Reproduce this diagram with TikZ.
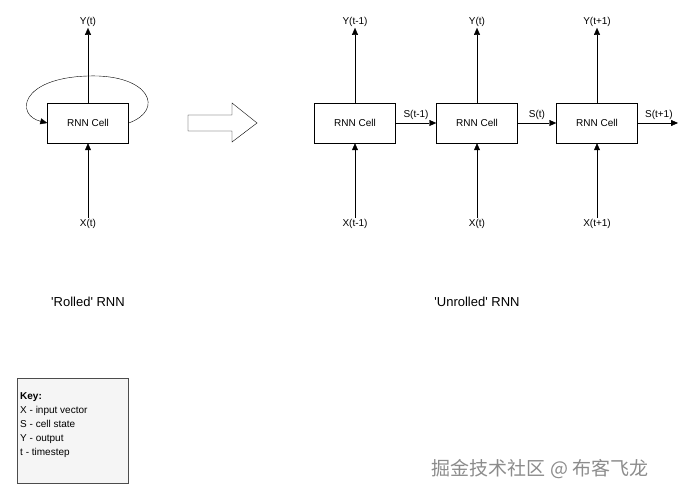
\documentclass[tikz,border=0pt]{standalone}
\usepackage{fontspec}
\setmainfont{Liberation Sans}
\newfontfamily\cjk{Noto Sans CJK SC}
\usetikzlibrary{arrows.meta,positioning}

\begin{document}
\begin{tikzpicture}[x=1pt,y=-1pt,font=\fontsize{10}{12}\selectfont,
  cell/.style={draw,minimum width=81pt,minimum height=40pt,inner sep=0pt},
  lbl/.style={inner sep=1pt},
  flow/.style={-{Triangle[length=7pt,width=6pt]}}]
\useasboundingbox (0,0) rectangle (690,502);

% rolled
\node[cell] (rc) at (88,123) {RNN Cell};
\node[lbl] (ry) at (88,22) {Y(t)};
\node[lbl] (rx) at (88,224) {X(t)};
\draw[flow] (rc.north) -- (ry);
\draw[flow] (rx) -- (rc.south);
\draw[flow] (rc.east) .. controls (165,110) and (150,74) .. (88,76)
  .. controls (20,78) and (15,115) .. (rc.west);

% big arrow
\draw (188,115) -- (232,115) -- (232,103) -- (257,123) -- (232,142)
  -- (232,131) -- (188,131) -- cycle;

% unrolled
\foreach \n/\x/\t in {a/355/t-1,b/477/t,c/597/t+1}{
  \node[cell] (\n) at (\x,123) {RNN Cell};
  \node[lbl] (\n y) at (\x,22) {Y(\t)};
  \node[lbl] (\n x) at (\x,224) {X(\t)};
  \draw[flow] (\n.north) -- (\n y);
  \draw[flow] (\n x) -- (\n.south);
}
\coordinate (cend) at (678,123);
\draw[flow] (a) -- node[above,lbl,yshift=2pt] {S(t-1)} (b);
\draw[flow] (b) -- node[above,lbl,yshift=2pt] {S(t)} (c);
\draw[flow] (c) -- node[above,lbl,yshift=2pt,xshift=1pt] {S(t+1)} (cend);

% captions
\node[font=\fontsize{13}{15}\selectfont] (rolled) at (88,302)
  {\textquotesingle Rolled\textquotesingle\ RNN};
\node[font=\fontsize{13}{15}\selectfont] (unrolled) at (477,302)
  {\textquotesingle Unrolled\textquotesingle\ RNN};

% key
\node[draw=black!70,fill=black!4,minimum width=111pt,minimum height=105pt,
  anchor=north west,inner sep=0pt] (keybox) at (17,378) {};
\node[anchor=north west,align=left,inner sep=0pt,
  font=\fontsize{10}{14}\selectfont] (keytxt) at (20,392)
  {\textbf{Key:}\\X - input vector\\S - cell state\\Y - output\\t - timestep};

% watermark
\node[text=black!45,font=\cjk\fontsize{19}{21}\selectfont] (wm) at (540,469)
  {掘金技术社区 @ 布客飞龙};
\end{tikzpicture}
\end{document}
